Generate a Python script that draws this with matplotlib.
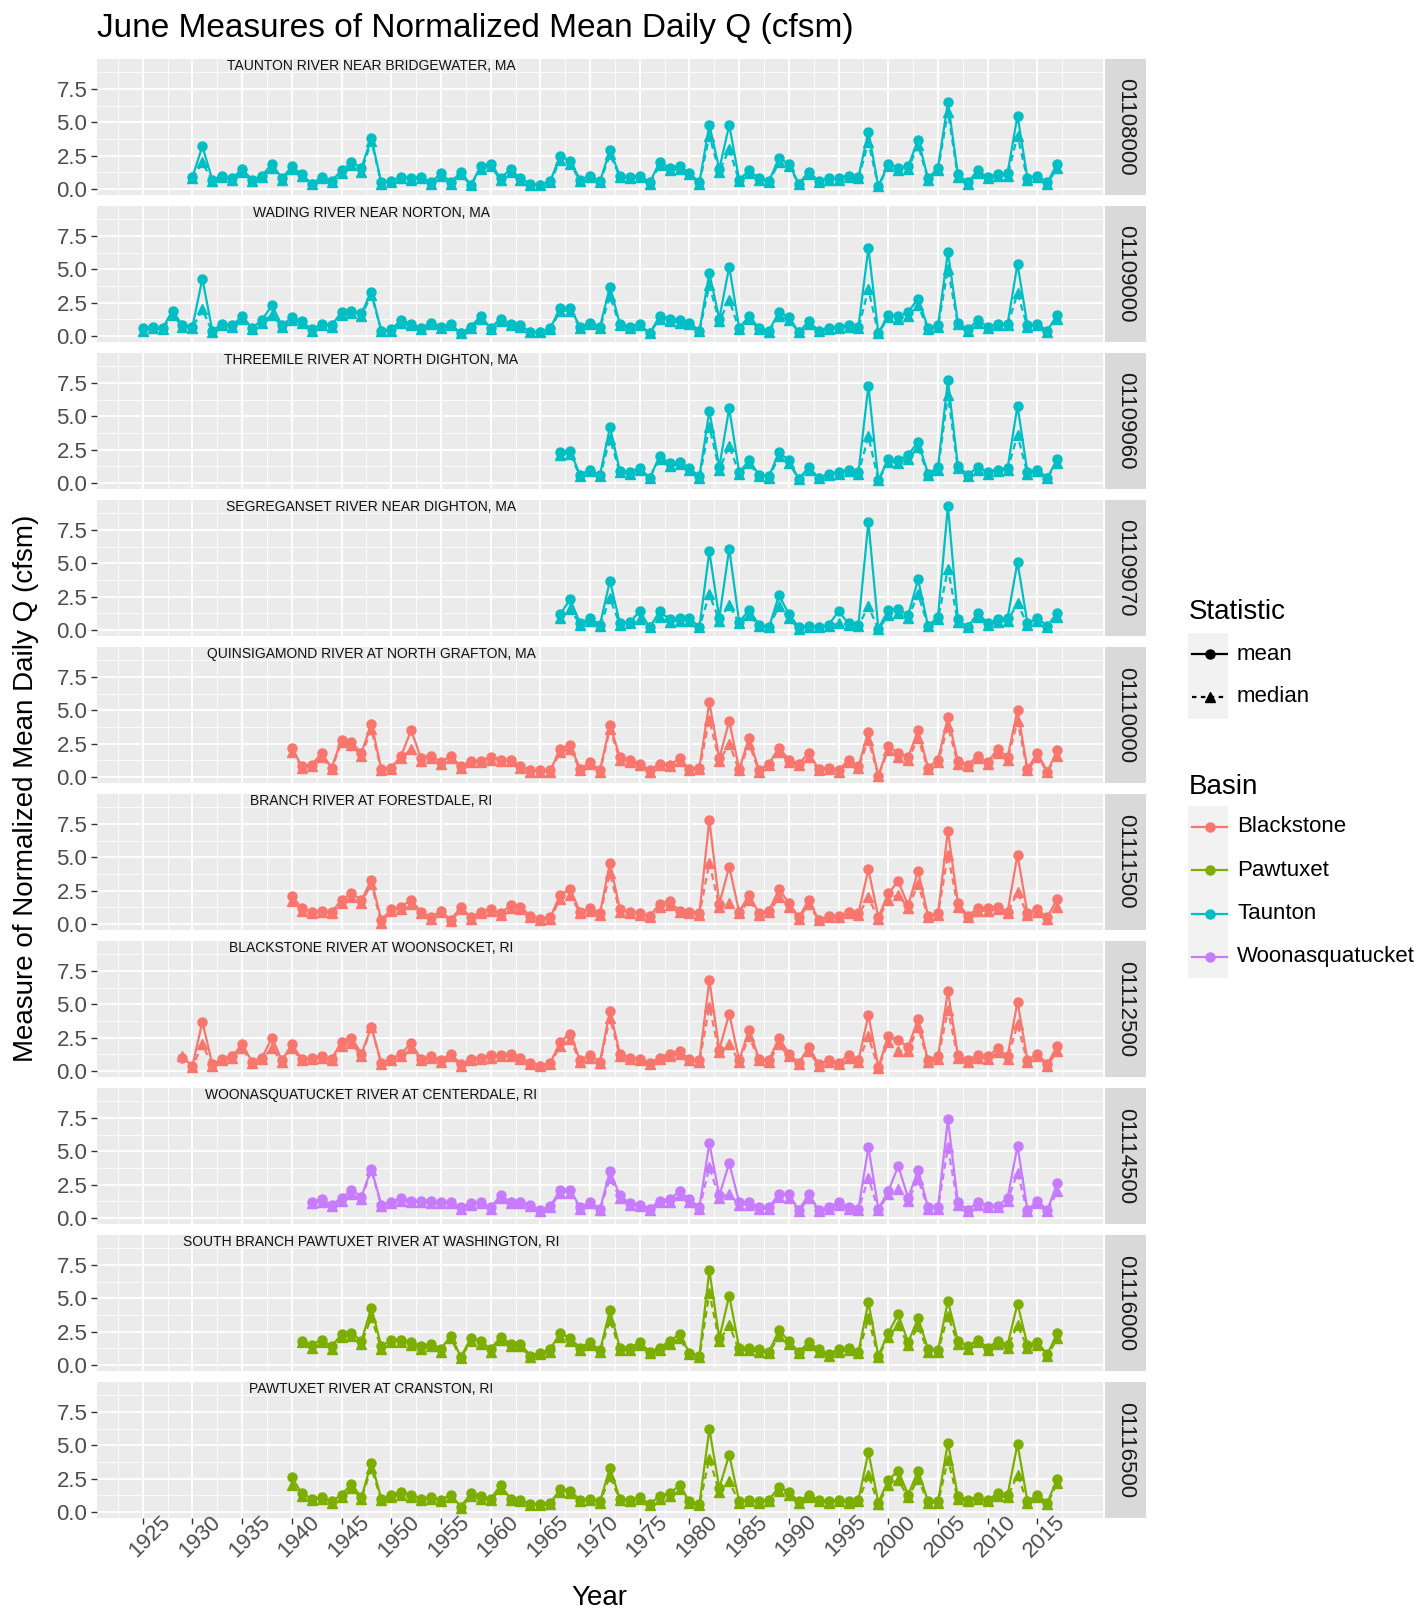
import matplotlib.pyplot as plt
from matplotlib.patches import Rectangle
import numpy as np

plt.rcParams['font.family'] = ['Liberation Sans', 'DejaVu Sans']

W, H = 1416, 1611

# ggplot default hue palette for the four basins
basin_colors = {'Blackstone': '#F8766D', 'Pawtuxet': '#7CAE00',
                'Taunton': '#00BFC4', 'Woonasquatucket': '#C77CFF'}

gauges = ['01108000', '01109000', '01109060', '01109070', '01110000',
          '01111500', '01112500', '01114500', '01116000', '01116500']
stations = ['TAUNTON RIVER NEAR BRIDGEWATER, MA',
            'WADING RIVER NEAR NORTON, MA',
            'THREEMILE RIVER AT NORTH DIGHTON, MA',
            'SEGREGANSET RIVER NEAR DIGHTON, MA',
            'QUINSIGAMOND RIVER AT NORTH GRAFTON, MA',
            'BRANCH RIVER AT FORESTDALE, RI',
            'BLACKSTONE RIVER AT WOONSOCKET, RI',
            'WOONASQUATUCKET RIVER AT CENTERDALE, RI',
            'SOUTH BRANCH PAWTUXET RIVER AT WASHINGTON, RI',
            'PAWTUXET RIVER AT CRANSTON, RI']
basins = ['Taunton', 'Taunton', 'Taunton', 'Taunton', 'Blackstone',
          'Blackstone', 'Blackstone', 'Woonasquatucket', 'Pawtuxet', 'Pawtuxet']
first_years = [1930, 1925, 1967, 1967, 1940, 1940, 1929, 1942, 1941, 1940]
last_year = 2017

# June mean / median of daily flow per square mile, one value per year
q01108000_mean = [0.9, 3.2, 0.7, 1.0, 0.8, 1.5, 0.7, 1.0, 1.9, 0.8,
                  1.7, 1.1, 0.4, 0.9, 0.6, 1.4, 2.0, 1.6, 3.8, 0.5,
                  0.6, 0.9, 0.8, 0.9, 0.5, 1.2, 0.5, 1.3, 0.3, 1.7,
                  1.9, 0.8, 1.5, 0.8, 0.4, 0.3, 0.6, 2.5, 2.1, 0.7,
                  1.0, 0.6, 2.9, 1.0, 0.9, 1.0, 0.5, 2.0, 1.6, 1.7,
                  1.2, 0.5, 4.8, 1.5, 4.8, 0.7, 1.4, 0.8, 0.6, 2.3,
                  1.9, 0.4, 1.3, 0.6, 0.8, 0.8, 1.0, 0.9, 4.3, 0.2,
                  1.9, 1.6, 1.7, 3.7, 0.8, 1.6, 6.5, 1.1, 0.5, 1.4,
                  0.9, 1.1, 1.2, 5.5, 0.8, 1.0, 0.5, 1.9]
q01108000_median = [0.8, 2.0, 0.6, 0.9, 0.7, 1.3, 0.6, 0.9, 1.6, 0.7,
                    1.5, 1.0, 0.4, 0.8, 0.5, 1.2, 1.8, 1.3, 3.6, 0.4,
                    0.5, 0.8, 0.7, 0.8, 0.4, 1.0, 0.4, 1.1, 0.3, 1.5,
                    1.7, 0.7, 1.3, 0.7, 0.3, 0.3, 0.5, 2.2, 1.9, 0.6,
                    0.9, 0.5, 2.6, 0.9, 0.8, 0.9, 0.4, 1.8, 1.4, 1.5,
                    1.1, 0.4, 4.0, 1.3, 3.0, 0.6, 1.2, 0.7, 0.5, 2.0,
                    1.7, 0.4, 1.1, 0.5, 0.7, 0.7, 0.9, 0.8, 3.5, 0.2,
                    1.7, 1.4, 1.5, 3.3, 0.7, 1.4, 5.8, 0.9, 0.4, 1.2,
                    0.8, 1.0, 1.0, 4.0, 0.7, 0.9, 0.4, 1.6]

q01109000_mean = [0.6, 0.7, 0.6, 1.9, 0.8, 0.7, 4.3, 0.4, 0.9, 0.8,
                  1.5, 0.6, 1.2, 2.3, 0.8, 1.4, 1.1, 0.5, 0.9, 0.8,
                  1.8, 1.9, 1.7, 3.3, 0.4, 0.5, 1.2, 0.9, 0.6, 1.0,
                  0.7, 0.9, 0.2, 0.7, 1.5, 0.6, 1.3, 0.9, 0.8, 0.3,
                  0.3, 0.6, 2.1, 2.1, 0.7, 1.0, 0.7, 3.7, 0.9, 0.7,
                  0.9, 0.2, 1.5, 1.3, 1.2, 1.0, 0.4, 4.7, 1.3, 5.2,
                  0.6, 1.5, 0.6, 0.4, 1.8, 1.4, 0.3, 1.1, 0.4, 0.6,
                  0.7, 0.8, 0.7, 6.6, 0.2, 1.6, 1.5, 1.8, 2.8, 0.6,
                  0.8, 6.3, 1.0, 0.5, 1.2, 0.7, 0.9, 0.9, 5.4, 0.8,
                  0.9, 0.4, 1.6]
q01109000_median = [0.4, 0.6, 0.5, 1.6, 0.7, 0.6, 2.0, 0.3, 0.8, 0.7,
                    1.3, 0.5, 1.0, 1.6, 0.7, 1.2, 1.0, 0.4, 0.8, 0.7,
                    1.6, 1.7, 1.5, 3.1, 0.4, 0.4, 1.0, 0.8, 0.5, 0.9,
                    0.6, 0.8, 0.2, 0.6, 1.3, 0.5, 1.1, 0.8, 0.7, 0.3,
                    0.3, 0.5, 1.9, 1.9, 0.6, 0.9, 0.6, 3.0, 0.8, 0.6,
                    0.8, 0.2, 1.3, 1.1, 1.0, 0.9, 0.4, 3.8, 1.1, 2.7,
                    0.5, 1.3, 0.5, 0.3, 1.5, 1.2, 0.3, 0.9, 0.4, 0.5,
                    0.6, 0.7, 0.6, 3.5, 0.2, 1.4, 1.3, 1.5, 2.3, 0.5,
                    0.7, 5.0, 0.9, 0.4, 1.0, 0.6, 0.8, 0.8, 3.2, 0.7,
                    0.8, 0.3, 1.3]

q01109060_mean = [2.3, 2.4, 0.6, 1.0, 0.6, 4.2, 0.9, 0.8, 1.1, 0.4,
                  2.0, 1.5, 1.6, 1.1, 0.5, 5.4, 1.2, 5.6, 0.8, 1.7,
                  0.6, 0.5, 2.3, 1.7, 0.3, 1.2, 0.4, 0.7, 0.8, 1.0,
                  0.8, 7.3, 0.2, 1.8, 1.7, 2.1, 3.1, 0.7, 1.2, 7.7,
                  1.3, 0.6, 1.2, 0.8, 1.0, 1.1, 5.8, 0.8, 1.0, 0.4,
                  1.8]
q01109060_median = [2.1, 2.2, 0.5, 0.9, 0.5, 3.3, 0.8, 0.7, 1.0, 0.4,
                    1.8, 1.3, 1.4, 1.0, 0.4, 4.2, 1.0, 2.8, 0.7, 1.5,
                    0.5, 0.4, 2.0, 1.5, 0.3, 1.0, 0.4, 0.6, 0.7, 0.9,
                    0.7, 3.5, 0.2, 1.6, 1.5, 1.8, 2.7, 0.6, 1.0, 6.6,
                    1.1, 0.5, 1.0, 0.7, 0.9, 1.0, 3.6, 0.7, 0.9, 0.4,
                    1.5]

q01109070_mean = [1.2, 2.3, 0.5, 0.9, 0.4, 3.7, 0.5, 0.6, 1.4, 0.2,
                  1.4, 0.8, 0.9, 0.9, 0.2, 5.9, 0.9, 6.1, 0.6, 1.5,
                  0.4, 0.2, 2.6, 1.2, 0.2, 0.3, 0.2, 0.4, 1.4, 0.5,
                  0.4, 8.1, 0.1, 1.5, 1.6, 1.1, 3.8, 0.3, 1.0, 9.3,
                  0.8, 0.2, 1.3, 0.5, 0.8, 0.9, 5.1, 0.5, 0.9, 0.3,
                  1.3]
q01109070_median = [0.9, 1.6, 0.4, 0.7, 0.3, 2.4, 0.4, 0.5, 0.8, 0.2,
                    1.0, 0.6, 0.7, 0.7, 0.2, 2.7, 0.7, 1.9, 0.5, 1.1,
                    0.3, 0.2, 1.8, 0.9, 0.1, 0.2, 0.2, 0.3, 0.5, 0.4,
                    0.3, 1.8, 0.05, 1.1, 1.3, 0.9, 2.7, 0.3, 0.8, 4.6,
                    0.6, 0.2, 1.0, 0.4, 0.6, 0.7, 2.0, 0.4, 0.7, 0.2,
                    1.0]

q01110000_mean = [2.2, 0.8, 0.9, 1.8, 0.7, 2.8, 2.6, 1.8, 4.0, 0.6,
                  0.7, 1.6, 3.5, 1.4, 1.6, 1.1, 1.6, 0.8, 1.2, 1.2,
                  1.5, 1.3, 1.3, 0.8, 0.5, 0.5, 0.5, 2.1, 2.4, 0.6,
                  1.1, 0.5, 3.9, 1.5, 1.3, 1.0, 0.5, 1.0, 0.9, 1.4,
                  0.6, 0.7, 5.6, 1.4, 4.2, 0.6, 2.9, 0.5, 1.0, 2.2,
                  1.3, 1.0, 1.8, 0.6, 0.7, 0.5, 1.3, 0.8, 3.4, 0.1,
                  2.3, 1.8, 1.5, 3.5, 0.7, 1.3, 4.5, 1.2, 0.9, 1.6,
                  1.1, 2.1, 1.5, 5.0, 0.6, 1.8, 0.4, 2.0]
q01110000_median = [1.9, 0.7, 0.8, 1.5, 0.6, 2.6, 2.4, 1.6, 3.6, 0.5,
                    0.6, 1.4, 2.1, 1.2, 1.4, 1.0, 1.4, 0.7, 1.1, 1.1,
                    1.3, 1.2, 1.2, 0.7, 0.4, 0.4, 0.4, 1.9, 2.1, 0.5,
                    1.0, 0.4, 3.6, 1.3, 1.1, 0.9, 0.4, 0.9, 0.8, 1.2,
                    0.5, 0.6, 4.3, 1.2, 2.5, 0.5, 2.5, 0.4, 0.9, 1.9,
                    1.1, 0.9, 1.5, 0.5, 0.6, 0.4, 1.1, 0.7, 2.8, 0.1,
                    2.0, 1.5, 1.3, 2.9, 0.6, 1.1, 3.8, 1.0, 0.8, 1.4,
                    1.0, 1.8, 1.3, 4.2, 0.5, 1.5, 0.4, 1.6]

q01111500_mean = [2.1, 1.2, 0.9, 1.0, 0.9, 1.8, 2.3, 1.8, 3.3, 0.3,
                  1.1, 1.3, 1.8, 0.9, 0.5, 1.0, 0.3, 1.3, 0.5, 0.9,
                  1.1, 0.8, 1.4, 1.3, 0.6, 0.4, 0.5, 2.2, 2.6, 0.9,
                  1.2, 0.8, 4.6, 1.1, 0.9, 0.8, 0.6, 1.5, 1.7, 1.0,
                  0.9, 0.8, 7.8, 1.5, 4.3, 0.9, 2.2, 0.8, 1.0, 2.6,
                  1.6, 0.5, 1.8, 0.3, 0.6, 0.6, 0.9, 0.8, 4.1, 0.5,
                  2.3, 3.2, 1.4, 4.0, 0.6, 0.8, 7.0, 1.6, 0.6, 1.2,
                  1.2, 1.3, 0.9, 5.2, 0.8, 1.1, 0.5, 1.9]
q01111500_median = [1.7, 1.0, 0.8, 0.9, 0.8, 1.6, 2.0, 1.6, 3.0, 0.1,
                    1.0, 1.1, 1.5, 0.8, 0.4, 0.9, 0.2, 1.1, 0.4, 0.8,
                    1.0, 0.7, 1.2, 1.1, 0.5, 0.3, 0.4, 1.9, 2.2, 0.8,
                    1.0, 0.7, 3.8, 0.9, 0.8, 0.7, 0.5, 1.3, 1.4, 0.9,
                    0.8, 0.7, 4.6, 1.3, 1.6, 0.8, 1.8, 0.7, 0.9, 2.0,
                    1.3, 0.4, 1.5, 0.3, 0.5, 0.5, 0.8, 0.7, 2.0, 0.4,
                    1.8, 2.2, 1.2, 3.0, 0.5, 0.7, 5.2, 1.3, 0.5, 1.0,
                    1.0, 1.1, 0.8, 2.4, 0.7, 0.9, 0.4, 1.3]

q01112500_mean = [1.0, 0.4, 3.7, 0.5, 0.9, 1.1, 2.0, 0.7, 1.0, 2.5,
                  0.8, 2.0, 0.9, 1.0, 1.1, 0.9, 2.2, 2.5, 1.3, 3.3,
                  0.6, 0.9, 1.3, 2.1, 0.9, 1.1, 0.8, 1.3, 0.5, 0.9,
                  1.0, 1.2, 1.2, 1.3, 1.0, 0.6, 0.4, 0.6, 2.2, 2.8,
                  0.8, 1.2, 0.7, 4.5, 1.3, 1.0, 0.9, 0.6, 1.0, 1.3,
                  1.5, 0.9, 0.8, 6.8, 1.6, 4.3, 0.8, 3.1, 0.9, 0.8,
                  2.5, 1.3, 0.6, 1.8, 0.5, 0.8, 0.6, 1.2, 0.8, 4.2,
                  0.3, 2.6, 2.3, 1.8, 3.9, 0.8, 1.1, 6.0, 1.2, 0.8,
                  1.2, 1.1, 1.7, 1.1, 5.2, 0.8, 1.3, 0.5, 1.9]
q01112500_median = [1.1, 0.3, 2.0, 0.4, 0.8, 1.0, 1.7, 0.6, 0.9, 1.7,
                    0.7, 1.7, 0.8, 0.9, 1.0, 0.8, 1.9, 2.1, 1.1, 3.3,
                    0.5, 0.8, 1.1, 1.7, 0.8, 1.0, 0.7, 1.1, 0.4, 0.8,
                    0.9, 1.0, 1.1, 1.1, 0.9, 0.5, 0.4, 0.5, 1.9, 2.4,
                    0.7, 1.0, 0.6, 4.0, 1.1, 0.9, 0.8, 0.5, 0.9, 1.1,
                    1.3, 0.8, 0.7, 4.8, 1.4, 2.0, 0.7, 2.6, 0.8, 0.7,
                    2.0, 1.1, 0.5, 1.5, 0.4, 0.7, 0.5, 1.0, 0.7, 2.6,
                    0.2, 2.2, 1.5, 1.5, 3.3, 0.7, 0.9, 4.6, 1.0, 0.7,
                    1.0, 0.9, 1.4, 0.9, 3.5, 0.7, 1.1, 0.4, 1.5]

q01114500_mean = [1.2, 1.4, 1.0, 1.5, 2.1, 1.6, 3.7, 1.0, 1.2, 1.5,
                  1.3, 1.3, 1.3, 1.2, 1.2, 0.8, 1.1, 1.2, 0.8, 1.7,
                  1.2, 1.2, 1.0, 0.6, 0.9, 2.1, 2.1, 0.8, 1.2, 0.7,
                  3.5, 1.7, 1.1, 1.0, 0.7, 1.3, 1.4, 2.0, 1.4, 0.8,
                  5.6, 1.7, 4.1, 1.2, 1.2, 0.8, 0.8, 1.8, 1.8, 0.6,
                  1.8, 0.6, 0.8, 1.2, 0.8, 0.7, 5.3, 0.7, 2.0, 3.9,
                  1.5, 3.6, 0.8, 0.8, 7.4, 1.2, 0.6, 1.2, 0.9, 0.9,
                  1.5, 5.4, 0.6, 1.3, 0.6, 2.6]
q01114500_median = [1.1, 1.2, 0.9, 1.3, 1.8, 1.4, 3.6, 0.9, 1.1, 1.3,
                    1.2, 1.2, 1.1, 1.1, 1.1, 0.7, 1.0, 1.1, 0.7, 1.5,
                    1.1, 1.1, 0.9, 0.5, 0.8, 1.9, 1.9, 0.7, 1.1, 0.6,
                    3.0, 1.5, 1.0, 0.9, 0.6, 1.2, 1.2, 1.7, 1.2, 0.7,
                    3.8, 1.5, 1.8, 1.0, 1.0, 0.7, 0.7, 1.6, 1.5, 0.5,
                    1.5, 0.5, 0.7, 1.0, 0.7, 0.6, 3.0, 0.6, 1.8, 2.2,
                    1.3, 2.9, 0.7, 0.7, 5.3, 1.0, 0.5, 1.0, 0.8, 0.8,
                    1.3, 3.4, 0.5, 1.1, 0.5, 2.0]

q01116000_mean = [1.8, 1.5, 1.9, 1.4, 2.3, 2.4, 1.8, 4.3, 1.4, 1.9,
                  1.9, 1.7, 1.4, 1.6, 1.2, 2.2, 0.6, 2.0, 1.8, 1.2,
                  2.1, 1.6, 1.6, 0.7, 0.9, 1.2, 2.4, 2.0, 1.3, 1.7,
                  1.1, 4.1, 1.3, 1.3, 1.7, 1.0, 1.3, 1.8, 2.3, 0.9,
                  0.7, 7.1, 2.0, 5.2, 1.3, 1.3, 1.2, 1.0, 2.6, 1.8,
                  1.0, 1.7, 1.2, 0.8, 1.2, 1.3, 1.0, 4.7, 0.7, 2.4,
                  3.8, 1.7, 3.5, 1.2, 1.1, 4.8, 1.8, 1.4, 1.9, 1.3,
                  1.8, 1.5, 4.6, 1.5, 1.7, 0.8, 2.4]
q01116000_median = [1.7, 1.3, 1.7, 1.2, 2.1, 2.2, 1.6, 3.6, 1.2, 1.7,
                    1.7, 1.5, 1.2, 1.4, 1.0, 2.0, 0.5, 1.8, 1.6, 1.0,
                    1.9, 1.4, 1.4, 0.6, 0.8, 1.0, 2.1, 1.8, 1.1, 1.5,
                    1.0, 3.4, 1.1, 1.1, 1.5, 0.9, 1.1, 1.6, 2.0, 0.8,
                    0.6, 5.4, 1.8, 3.0, 1.1, 1.1, 1.0, 0.9, 2.2, 1.6,
                    0.9, 1.5, 1.0, 0.7, 1.0, 1.1, 0.9, 3.5, 0.6, 2.1,
                    3.0, 1.5, 2.9, 1.0, 1.0, 3.7, 1.6, 1.2, 1.7, 1.1,
                    1.6, 1.3, 3.0, 1.3, 1.5, 0.7, 2.0]

q01116500_mean = [2.6, 1.4, 1.0, 1.1, 0.8, 1.3, 2.1, 1.1, 3.7, 1.0,
                  1.3, 1.5, 1.3, 1.0, 1.1, 0.9, 1.3, 0.4, 1.4, 1.2,
                  1.0, 2.0, 1.0, 0.9, 0.6, 0.6, 0.7, 1.7, 1.6, 0.9,
                  1.0, 0.8, 3.3, 1.0, 0.9, 1.1, 0.6, 1.2, 1.4, 2.0,
                  0.8, 0.6, 6.2, 1.8, 4.3, 0.8, 0.9, 0.8, 0.9, 1.9,
                  1.5, 0.8, 1.3, 0.9, 0.8, 0.9, 0.8, 0.9, 4.5, 0.7,
                  2.4, 3.1, 1.3, 3.1, 0.8, 0.8, 5.2, 1.2, 0.9, 1.1,
                  0.9, 1.4, 1.3, 5.1, 0.8, 1.3, 0.7, 2.5]
q01116500_median = [2.0, 1.2, 0.9, 1.0, 0.7, 1.1, 1.8, 1.0, 3.3, 0.9,
                    1.1, 1.3, 1.1, 0.9, 1.0, 0.8, 1.1, 0.3, 1.2, 1.0,
                    0.9, 1.7, 0.9, 0.8, 0.5, 0.5, 0.6, 1.5, 1.4, 0.8,
                    0.9, 0.7, 2.7, 0.9, 0.8, 1.0, 0.5, 1.0, 1.2, 1.7,
                    0.7, 0.5, 4.0, 1.5, 2.3, 0.7, 0.8, 0.7, 0.8, 1.6,
                    1.3, 0.7, 1.1, 0.8, 0.7, 0.8, 0.7, 0.8, 2.8, 0.6,
                    2.0, 2.4, 1.1, 2.5, 0.7, 0.7, 3.9, 1.0, 0.8, 1.0,
                    0.8, 1.2, 1.1, 2.8, 0.7, 1.1, 0.6, 2.2]

means = [q01108000_mean, q01109000_mean, q01109060_mean, q01109070_mean,
         q01110000_mean, q01111500_mean, q01112500_mean, q01114500_mean,
         q01116000_mean, q01116500_mean]
medians = [q01108000_median, q01109000_median, q01109060_median,
           q01109070_median, q01110000_median, q01111500_median,
           q01112500_median, q01114500_median, q01116000_median,
           q01116500_median]

# shared y scale with ggplot style 5% padding
allv = np.concatenate([np.array(v) for v in means + medians])
ypad = 0.05 * (allv.max() - allv.min())
ylo, yhi = allv.min() - ypad, allv.max() + ypad
xfirst = min(first_years)
xpad = 0.05 * (last_year - xfirst)
xlo, xhi = xfirst - xpad, last_year + xpad

fig = plt.figure(figsize=(W / 100, H / 100), dpi=100)

def fbox(x0, y0, w, h):
    return [x0 / W, 1 - (y0 + h) / H, w / W, h / H]

panel_left, panel_w = 97, 1006
top0, step, ph = 58.6, 147, 136

for i in range(10):
    top = top0 + i * step
    ax = fig.add_axes(fbox(panel_left, top, panel_w, ph))
    ax.set_facecolor('#EBEBEB')
    for s in ax.spines.values():
        s.set_visible(False)
    ax.set_xlim(xlo, xhi)
    ax.set_ylim(ylo, yhi)
    ax.set_xticks(np.arange(1925, 2016, 5))
    ax.set_xticks(np.arange(1922.5, 2020, 5), minor=True)
    ax.set_yticks([0, 2.5, 5, 7.5])
    ax.set_yticks([1.25, 3.75, 6.25, 8.75], minor=True)
    ax.set_yticklabels(['0.0', '2.5', '5.0', '7.5'])
    ax.grid(which='major', color='white', lw=1.3)
    ax.grid(which='minor', color='white', lw=0.6)
    ax.set_axisbelow(True)
    ax.tick_params(which='minor', length=0)
    ax.tick_params(axis='y', which='major', length=4, width=1, color='#333333',
                   labelsize=16, labelcolor='#4D4D4D', pad=3)
    if i < 9:
        ax.tick_params(axis='x', which='major', bottom=False, labelbottom=False)
    else:
        ax.tick_params(axis='x', which='major', length=4, width=1, color='#333333',
                       labelsize=16, labelcolor='#4D4D4D', pad=4)
        for lab in ax.get_xticklabels():
            lab.set_rotation(45)
            lab.set_rotation_mode('anchor')
            lab.set_ha('center')
            lab.set_va('top')

    c = basin_colors[basins[i]]
    yrs = np.arange(first_years[i], last_year + 1)
    ax.plot(yrs, means[i], '-', color=c, lw=1.6, marker='o', ms=6.5, zorder=3)
    ax.plot(yrs, medians[i], color=c, lw=1.6, ls=(0, (3, 2)), marker='^',
            ms=6.5, zorder=3)
    ax.text(1948, 9.2, stations[i], ha='center', va='center', fontsize=10,
            color='#111111')

    sax = fig.add_axes(fbox(1105, top, 41, ph))
    sax.set_facecolor('#D9D9D9')
    sax.set_xticks([])
    sax.set_yticks([])
    for s in sax.spines.values():
        s.set_visible(False)
    sax.text(0.5, 0.5, gauges[i], rotation=-90, ha='center', va='center',
             fontsize=16, color='#1A1A1A', transform=sax.transAxes)

fig.text(97 / W, 1 - 28 / H, 'June Measures of Normalized Mean Daily Q (cfsm)',
         fontsize=24, ha='left', va='center')
fig.text(26 / W, 1 - 788 / H, 'Measure of Normalized Mean Daily Q (cfsm)',
         fontsize=20, rotation=90, ha='center', va='center')
fig.text(599 / W, 1 - 1598 / H, 'Year', fontsize=20, ha='center', va='center')

# legends drawn in pixel space
lax = fig.add_axes([0, 0, 1, 1])
lax.set_xlim(0, W)
lax.set_ylim(H, 0)
lax.axis('off')
lax.patch.set_visible(False)

lax.text(1189, 612, 'Statistic', fontsize=20, ha='left', va='center')
stat_rows = [('mean', '-', 'o', 654), ('median', (0, (2, 2)), '^', 697)]
for lab, ls, mk, yy in stat_rows:
    lax.add_patch(Rectangle((1188, yy - 21.5), 40, 43, fc='#F2F2F2', ec='none'))
    lax.plot([1192, 1227], [yy, yy], color='black', lw=1.6, ls=ls)
    lax.plot([1209.5], [yy], color='black', marker=mk, ms=6.5)
    lax.text(1237, yy, lab, fontsize=16, ha='left', va='center')

lax.text(1189, 787, 'Basin', fontsize=20, ha='left', va='center')
for k, name in enumerate(['Blackstone', 'Pawtuxet', 'Taunton', 'Woonasquatucket']):
    yy = 827 + k * 43.3
    lax.add_patch(Rectangle((1188, yy - 21.5), 40, 43, fc='#F2F2F2', ec='none'))
    lax.plot([1192, 1227], [yy, yy], color=basin_colors[name], lw=1.6)
    lax.plot([1209.5], [yy], color=basin_colors[name], marker='o', ms=6.5)
    lax.text(1237, yy, name, fontsize=16, ha='left', va='center')

fig.savefig('out.png', dpi=100)
